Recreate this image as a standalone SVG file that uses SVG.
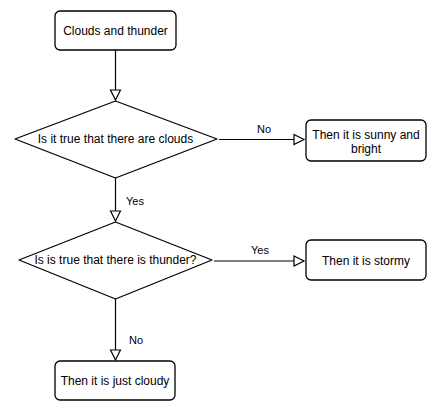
<svg xmlns="http://www.w3.org/2000/svg" width="436" height="411" viewBox="0 0 436 411">
<defs>
<marker id="arr" markerWidth="12" markerHeight="12" refX="10" refY="5" orient="auto" markerUnits="userSpaceOnUse" viewBox="0 0 12 10" overflow="visible">
<path d="M0,0 L10,5 L0,10 Z" fill="#fff" stroke="#000" stroke-width="1.2"/>
</marker>
</defs>
<style>
.n{fill:#fff;stroke:#000;stroke-width:1.3;}
.e{fill:none;stroke:#000;stroke-width:1.2;}
text{font-family:"Liberation Sans",Arial,sans-serif;font-size:12px;fill:#000;}
.c{text-anchor:middle;}
.l{font-size:11px;}
</style>
<rect width="436" height="411" fill="#fff"/>
<g id="connectors">
<path class="e" d="M115.5,50 L115.5,100" marker-end="url(#arr)"/>
<path class="e" d="M219,139.5 L304,139.5" marker-end="url(#arr)"/>
<path class="e" d="M115.5,178 L115.5,221" marker-end="url(#arr)"/>
<path class="e" d="M214,261 L304,261" marker-end="url(#arr)"/>
<path class="e" d="M115.5,299 L115.5,360" marker-end="url(#arr)"/>
<text class="l" x="257" y="133">No</text>
<text class="l" x="126" y="205">Yes</text>
<text class="l" x="251" y="254">Yes</text>
<text class="l" x="129" y="344">No</text>
</g>
<g id="start">
<rect class="n" x="55" y="11" width="121" height="39" rx="5"/>
<text class="c" x="115.5" y="35">Clouds and thunder</text>
</g>
<g id="q1">
<path class="n" d="M115.5,101 L217,139 L115.5,178 L15,139 Z" stroke-linejoin="round"/>
<text class="c" x="115.5" y="143">Is it true that there are clouds</text>
</g>
<g id="sunny">
<rect class="n" x="306" y="120" width="120" height="41" rx="5"/>
<text class="c" x="366" y="139">Then it is sunny and</text>
<text class="c" x="366" y="153">bright</text>
</g>
<g id="q2">
<path class="n" d="M115.5,222 L212,260 L115.5,299 L19,260 Z" stroke-linejoin="round"/>
<text class="c" x="115.5" y="264">Is is true that there is thunder?</text>
</g>
<g id="stormy">
<rect class="n" x="306" y="240" width="120" height="40" rx="5"/>
<text class="c" x="366" y="265">Then it is stormy</text>
</g>
<g id="cloudy">
<rect class="n" x="55" y="361" width="120" height="39" rx="5"/>
<text class="c" x="115" y="385">Then it is just cloudy</text>
</g>
</svg>
